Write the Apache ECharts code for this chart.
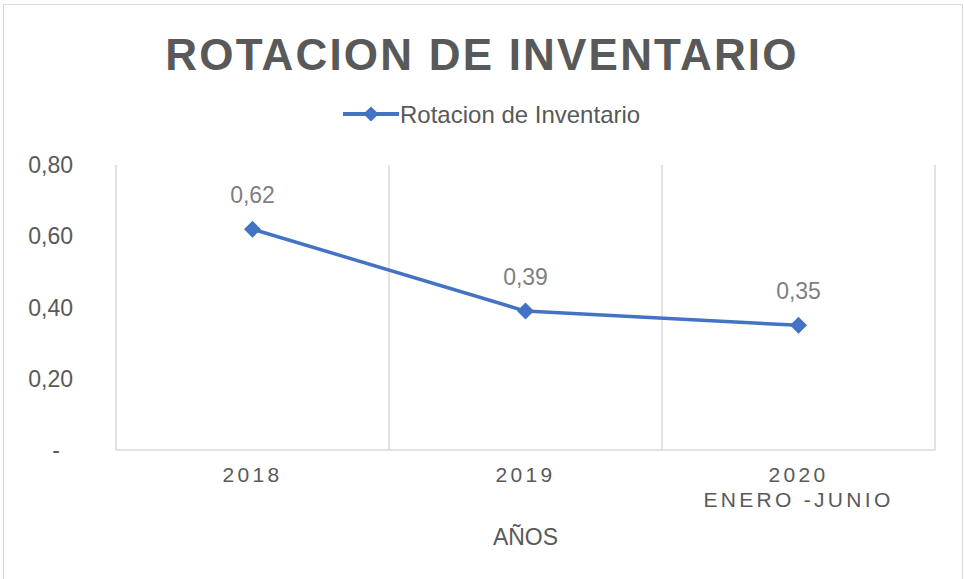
<!DOCTYPE html>
<html>
<head>
<meta charset="utf-8">
<title>Rotacion de Inventario</title>
<script src="https://cdn.jsdelivr.net/npm/echarts@6/dist/echarts.min.js"></script>
<style>
  html, body { margin: 0; padding: 0; background: #ffffff; }
  #chart { width: 964px; height: 579px; }
</style>
</head>
<body>
<div id="chart"></div>
<script>
// datos del grafico
var categorias = ["2018", "2019", "2020\nENERO -JUNIO"];
var rotacion = [0.62, 0.39, 0.35];
var serieNombre = "Rotacion de Inventario";
var titulo = "ROTACION DE INVENTARIO";
var ejeX = "AÑOS";

var fuente = "'Liberation Sans', Arial, sans-serif";

// textos con espaciado entre letras (como en Excel)
var espaciado = {};
espaciado[titulo] = "2.2px";
categorias.forEach(function (c) {
  c.split("\n").forEach(function (linea) {
    espaciado[linea] = "3.3px";
  });
});

function formatoComa(v) {
  if (v === 0) return "{guion|-}";
  return v.toFixed(2).replace(".", ",");
}

var myChart = echarts.init(document.getElementById("chart"), null, {
  renderer: "svg",
});
myChart.setOption({
  animation: false,
  backgroundColor: "#ffffff",
  graphic: [
    {
      type: "rect",
      shape: { x: 3.5, y: 4.5, width: 959, height: 580 },
      style: { fill: "none", stroke: "#d9d9d9", lineWidth: 1 },
      silent: true,
    },
  ],
  title: {
    text: titulo,
    left: "center",
    top: 27,
    textStyle: {
      color: "#595959",
      fontFamily: fuente,
      fontSize: 44,
      fontWeight: "bold",
    },
  },
  legend: {
    top: 97,
    left: 336,
    itemWidth: 56,
    itemHeight: 19,
    lineStyle: { width: 4 },
    textStyle: {
      color: "#595959",
      fontFamily: fuente,
      fontSize: 24,
      padding: [0, 0, 0, -4],
    },
    data: [serieNombre],
  },
  grid: {
    left: 116,
    right: 29,
    top: 165,
    bottom: 129,
    containLabel: false,
  },
  xAxis: {
    type: "category",
    data: categorias,
    boundaryGap: true,
    name: ejeX,
    nameLocation: "middle",
    nameGap: 75,
    nameTextStyle: {
      color: "#595959",
      fontFamily: fuente,
      fontSize: 23,
    },
    axisLine: { show: true, lineStyle: { color: "#d9d9d9", width: 1.5 } },
    axisTick: { show: false },
    axisLabel: {
      color: "#595959",
      fontFamily: fuente,
      fontSize: 21,
      lineHeight: 25,
      margin: 12,
    },
    splitLine: {
      show: true,
      lineStyle: { color: "#d9d9d9", width: 1.5 },
    },
  },
  yAxis: {
    type: "value",
    min: 0,
    max: 0.8,
    interval: 0.2,
    axisLine: { show: false },
    axisTick: { show: false },
    splitLine: { show: false },
    axisLabel: {
      color: "#595959",
      fontFamily: fuente,
      fontSize: 23,
      margin: 43,
      formatter: formatoComa,
      rich: {
        guion: { fontSize: 23, color: "#595959", padding: [0, 13, 0, 0] },
      },
    },
  },
  series: [
    {
      name: serieNombre,
      type: "line",
      data: rotacion,
      symbol: "diamond",
      symbolSize: 17,
      lineStyle: { color: "#4472c4", width: 3.5 },
      itemStyle: { color: "#4472c4" },
      label: {
        show: true,
        position: "top",
        distance: 14,
        color: "#7f7f7f",
        fontFamily: fuente,
        fontSize: 23,
        formatter: function (p) {
          return formatoComa(p.value);
        },
      },
    },
  ],
});

// aplicar espaciado de letras a los textos del svg
function aplicarEspaciado() {
  var textos = document.querySelectorAll("#chart svg text");
  textos.forEach(function (t) {
    var ls = espaciado[t.textContent];
    if (ls) t.style.letterSpacing = ls;
  });
}
aplicarEspaciado();
myChart.on("finished", aplicarEspaciado);
</script>
</body>
</html>
